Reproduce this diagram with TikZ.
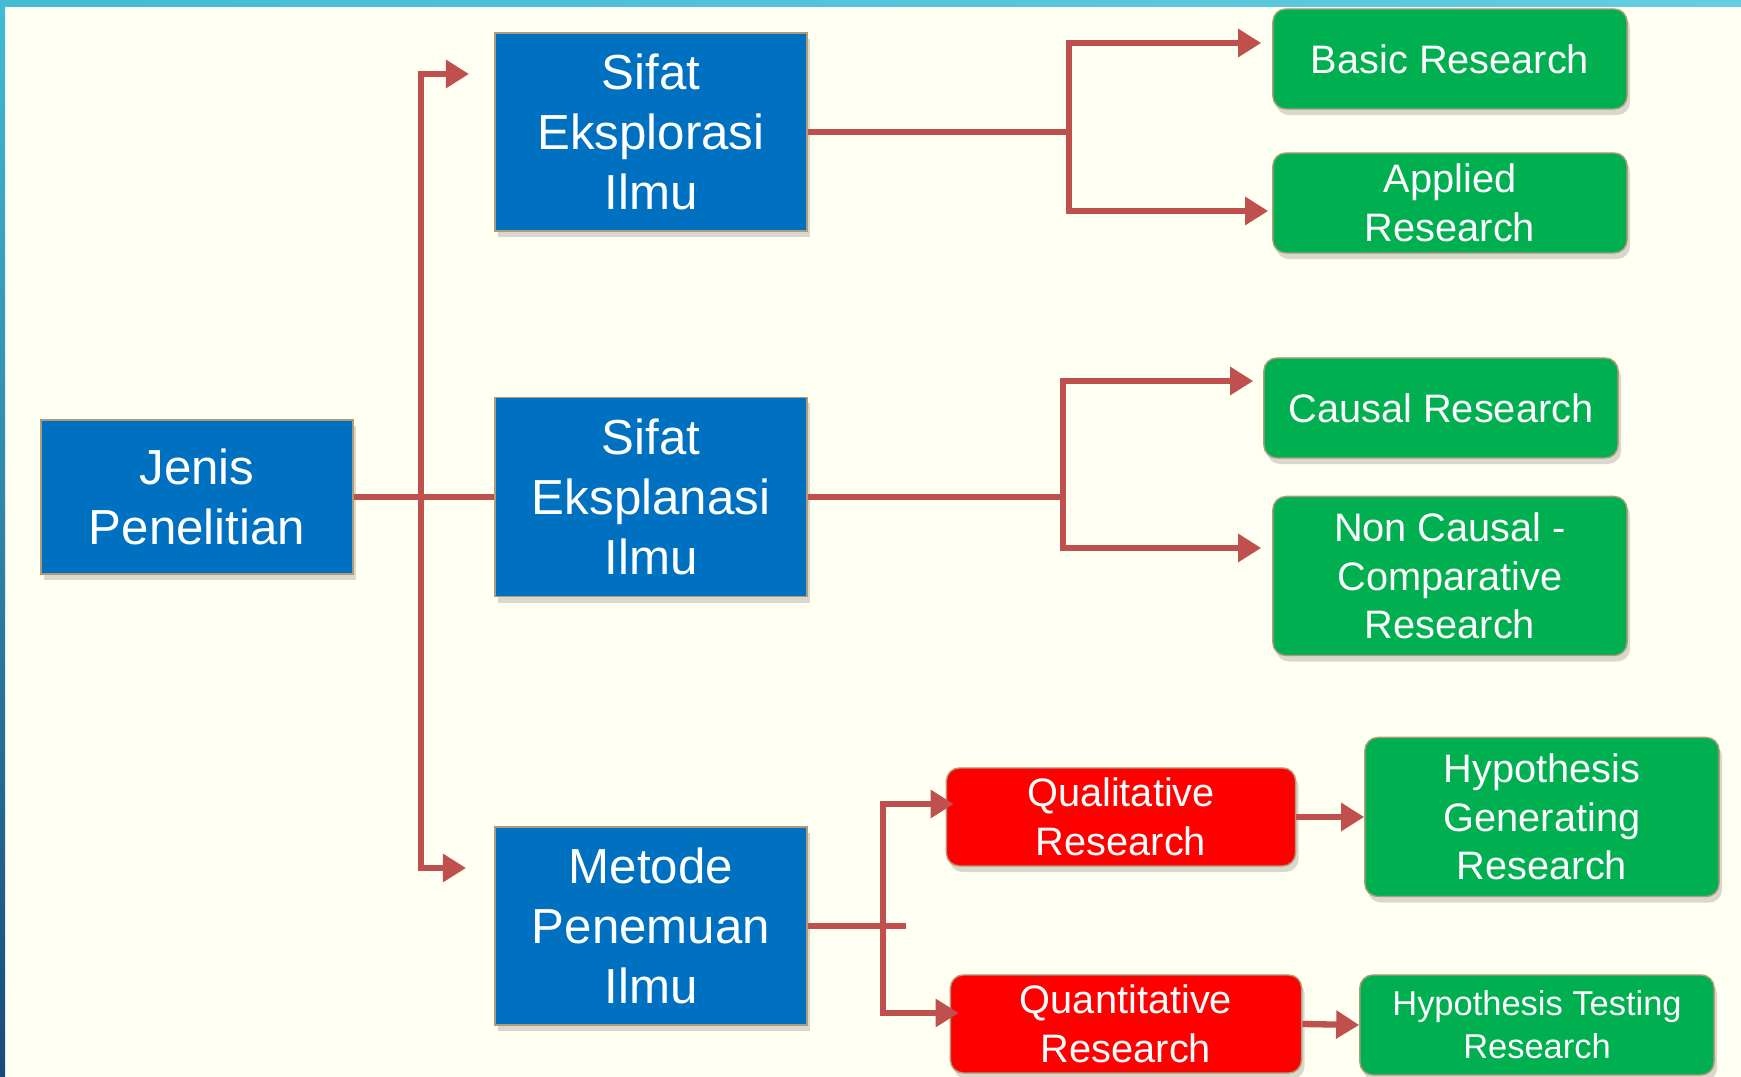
\documentclass[tikz,border=0pt]{standalone}
\usepackage{fontspec}
\setmainfont{Liberation Sans}
\usetikzlibrary{arrows.meta,shadows}
\definecolor{boxblue}{HTML}{0070C0}
\definecolor{boxgreen}{HTML}{00B050}
\definecolor{boxred}{HTML}{FF0000}
\definecolor{linkred}{HTML}{C0504D}
\definecolor{paper}{HTML}{FFFFF2}
\definecolor{rim}{HTML}{B09A78}
\definecolor{frametop}{HTML}{42BBD5}
\definecolor{frameend}{HTML}{64CDE1}
\definecolor{framelow}{HTML}{184B78}
\begin{document}
\begin{tikzpicture}[x=0.01cm,y=-0.01cm]
    % size of the boxes
    \def\bw{3.12cm}
    \def\gw{3.54cm}
    % node style definition
    \tikzstyle{base} = [
    	draw=rim, line width=0.4pt, text=white, align=center, inner sep=0pt,
    	drop shadow={shadow xshift=0.03cm, shadow yshift=-0.06cm, opacity=0.3} ];
    \tikzstyle{topic} = [base, rectangle, fill=boxblue,
    	minimum width=\bw, font=\fontsize{14}{17}\selectfont];
    \tikzstyle{leaf} = [base, rectangle, rounded corners=0.13cm, fill=boxgreen,
    	minimum width=\gw, minimum height=1cm, font=\fontsize{11.3}{13.8}\selectfont];
    \tikzstyle{method} = [leaf, fill=boxred, minimum width=3.5cm, minimum height=0.98cm];
    \tikzstyle{link} = [draw=linkred, line width=1.8pt];
    \tikzstyle{arrow} = [link, -{Triangle[length=0.23cm, width=0.27cm]}];
    % page and frame
    \useasboundingbox (0,0) rectangle (1741,1077);
    \fill[paper] (0,0) rectangle (1741,1077);
    \shade[top color=frametop, bottom color=framelow] (0,0) rectangle (5,1077);
    \shade[left color=frametop, right color=frameend] (0,0) rectangle (1741,7);
    % blue boxes
    \node[topic, minimum height=1.54cm] (jenis) at (197,497) {Jenis\\Penelitian};
    \node[topic, minimum height=1.98cm] (eksplorasi) at (651,132) {Sifat\\Eksplorasi\\Ilmu};
    \node[topic, minimum height=1.99cm] (eksplanasi) at (651,497) {Sifat\\Eksplanasi\\Ilmu};
    \node[topic, minimum height=1.98cm] (metode) at (651,926) {Metode\\Penemuan\\Ilmu};
    % green boxes
    \node[leaf] (basic) at (1450,59) {Basic Research};
    \node[leaf] (applied) at (1450,203) {Applied\\Research};
    \node[leaf] (causal) at (1441,408) {Causal Research};
    \node[leaf, minimum height=1.59cm] (noncausal) at (1450,576) {Non Causal -\\Comparative\\Research};
    \node[leaf, minimum height=1.59cm] (hypgen) at (1542,817) {Hypothesis\\Generating\\Research};
    \node[leaf, font=\fontsize{9.8}{12.3}\selectfont] (hyptest) at (1537,1025) {Hypothesis Testing\\Research};
    % red boxes
    \node[method, minimum width=3.49cm] (qual) at (1121,817) {Qualitative\\Research};
    \node[method, minimum width=3.51cm] (quant) at (1126,1024) {Quantitative\\Research};
    % left fork
    \coordinate (trunk) at (421,497);
    \coordinate (up) at (469,74);
    \coordinate (down) at (466,868);
    \draw[link] (jenis) -- (eksplanasi);
    \draw[arrow] (trunk) |- (up);
    \draw[arrow] (trunk) |- (down);
    % forks on the right
    \coordinate (fork1) at (1069,132);
    \coordinate (fork2) at (1063,497);
    \coordinate (fork3) at (883,926);
    \draw[link] (eksplorasi.east) -- (fork1);
    \draw[arrow] (fork1) |- ([shift={(-11,-16)}]basic.west);
    \draw[arrow] (fork1) |- ([shift={(-4,8)}]applied.west);
    \draw[link] (eksplanasi.east) -- (fork2);
    \draw[arrow] (fork2) |- ([shift={(-10,-27)}]causal.west);
    \draw[arrow] (fork2) |- ([shift={(-11,-28)}]noncausal.west);
    \draw[link] (metode.east) -- ++(98,0);
    \draw[arrow] (fork3) |- ([shift={(8,-13)}]qual.west);
    \draw[arrow] (fork3) |- ([shift={(9,-11)}]quant.west);
    \draw[arrow] (qual.east) -- (hypgen.west);
    \draw[arrow] (quant.east) -- (hyptest.west);
\end{tikzpicture}
\end{document}
